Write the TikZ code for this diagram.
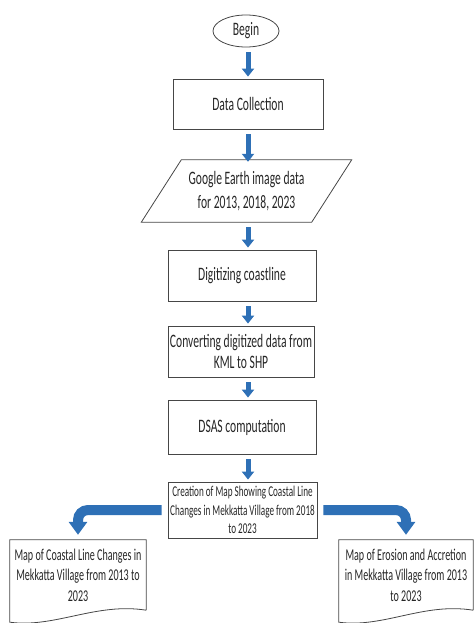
\documentclass[tikz,border=0pt]{standalone}
\usepackage{fontspec}
\setmainfont{Carlito}[FakeStretch=0.61]
\usepackage{tikz}
\usetikzlibrary{arrows.meta,shapes.geometric}
\definecolor{flowblue}{RGB}{46,112,182}
\definecolor{boxline}{RGB}{70,70,70}

\begin{document}
\begin{tikzpicture}[x=1pt, y=-1pt,
	box/.style={draw=boxline, line width=0.8pt, rectangle, align=center, text=black!85,
		font=\fontsize{19}{21}\selectfont},
	plain/.style={align=center, text=black!85, inner sep=0pt},
	flow/.style={flowblue, line width=5pt, -{Triangle[width=12pt,length=8pt]},
		shorten <=5pt, shorten >=2pt},
	branch/.style={flowblue, line width=10pt, rounded corners=10pt,
		-{Triangle[width=18pt,length=13pt]}, shorten <=6pt, shorten >=5pt},
	docline/.style={draw=boxline, line width=0.8pt}]
	%\draw [help lines] (0,0) grid[step=50] (474,623);
	\useasboundingbox (0,0) rectangle (474,623);
	\coordinate (axis) at (248,0);

	\node [box, ellipse, minimum width=66, minimum height=32, inner sep=0pt] (begin) at (246,31) {Begin};
	\node [box, minimum width=150, minimum height=50] (collect) at (248,104) {Data Collection};
	\node [plain, minimum width=170, minimum height=62, font=\fontsize{19}{24}\selectfont]
		(gearth) at (246.5,191) {Google Earth image data\\for 2013, 2018, 2023};
	\draw [docline] ([xshift=20]gearth.north west) -- ([xshift=20]gearth.north east)
		-- ([xshift=-20]gearth.south east) -- ([xshift=-20]gearth.south west) -- cycle;
	\node [box, minimum width=148, minimum height=51] (digit) at (242,275.5) {Digitizing coastline};
	\node [box, minimum width=146, minimum height=51, inner sep=1pt] (convert) at (241,351.5)
		{Converting digitized data from\\KML to SHP};
	\node [box, minimum width=148, minimum height=54] (dsas) at (242,427) {DSAS computation};
	\node [box, minimum width=149, minimum height=56, inner sep=1pt, font=\fontsize{15}{18.5}\selectfont]
		(creation) at (242.5,510) {Creation of Map Showing Coastal Line\\Changes in Mekkatta Village from 2018\\to 2023};

	% document shapes at the bottom
	\node [plain, minimum width=136, minimum height=70, font=\fontsize{16.5}{20.5}\selectfont]
		(mapleft) at (78,575) {Map of Coastal Line Changes in\\Mekkatta Village from 2013 to\\2023};
	\draw [docline] (mapleft.south east) -- (mapleft.north east) -- (mapleft.north west)
		-- ([yshift=-12pt]mapleft.south west)
		.. controls ([xshift=45pt,yshift=-18pt]mapleft.south west) and ([xshift=-50pt,yshift=8pt]mapleft.south east)
		.. (mapleft.south east);
	\node [plain, minimum width=134, minimum height=70, font=\fontsize{16.5}{20.5}\selectfont]
		(mapright) at (406,575) {Map of Erosion and Accretion\\in Mekkatta Village from 2013\\to 2023};
	\draw [docline] (mapright.south east) -- (mapright.north east) -- (mapright.north west)
		-- ([yshift=-12pt]mapright.south west)
		.. controls ([xshift=45pt,yshift=-18pt]mapright.south west) and ([xshift=-50pt,yshift=8pt]mapright.south east)
		.. (mapright.south east);

	\draw [flow] (begin.south -| axis) -- (collect.north -| axis);
	\draw [flow] (collect.south -| axis) -- ([yshift=-4pt]gearth.north -| axis);
	\draw [flow] (gearth.south -| axis) -- (digit.north -| axis);
	\draw [flow] (digit.south -| axis) -- (convert.north -| axis);
	\draw [flow] (convert.south -| axis) -- (dsas.north -| axis);
	\draw [flow] (dsas.south -| axis) -- (creation.north -| axis);
	\draw [branch] (creation.west) -| (mapleft.north);
	\draw [branch] (creation.east) -| (mapright.north);
\end{tikzpicture}
\end{document}
